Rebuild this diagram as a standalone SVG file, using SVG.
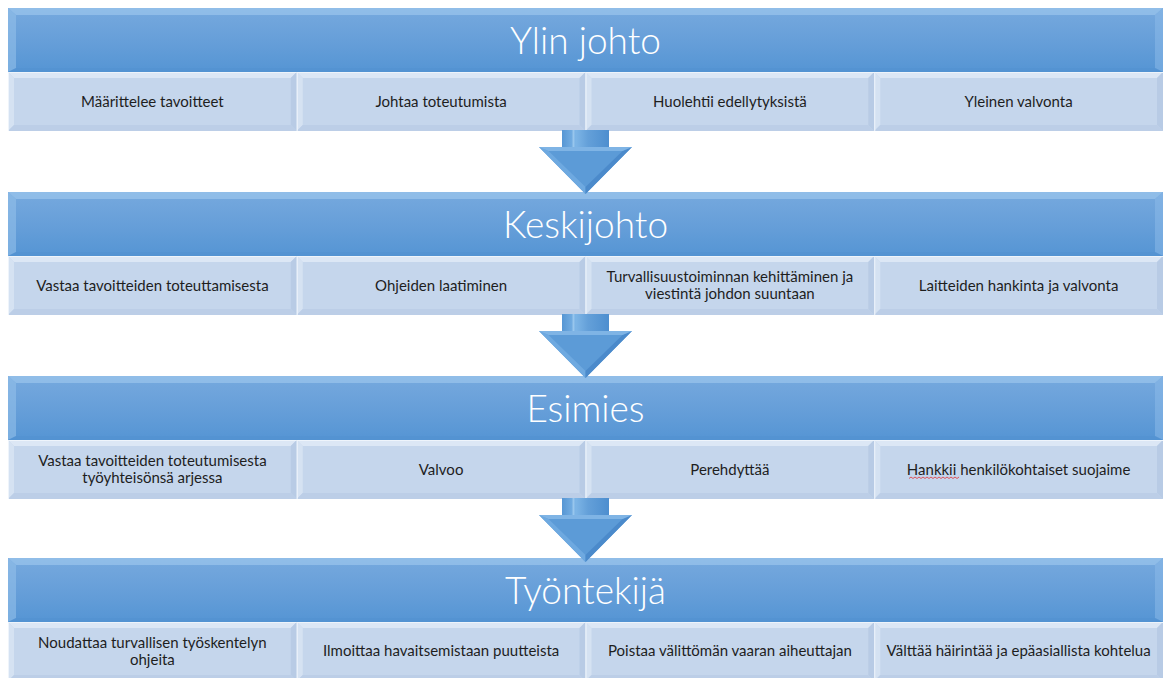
<svg xmlns="http://www.w3.org/2000/svg" xmlns:xlink="http://www.w3.org/1999/xlink" width="1166" height="678" viewBox="0 0 1166 678">
<defs>
<style>
.title{font-family:Lato,"Liberation Sans",sans-serif;font-weight:300;font-size:37px;fill:#ffffff;text-anchor:middle}
.ct{font-family:Lato,"Liberation Sans",sans-serif;font-size:15px;fill:#1e1e1e;text-anchor:middle}
</style>
<linearGradient id="hg" x1="0" y1="0" x2="0" y2="1">
<stop offset="0" stop-color="#76a9de"/>
<stop offset="0.5" stop-color="#679fd9"/>
<stop offset="1" stop-color="#5595d4"/>
</linearGradient>
<linearGradient id="sg" x1="0" y1="0" x2="1" y2="0">
<stop offset="0" stop-color="#5696d4"/>
<stop offset="0.3" stop-color="#7db5e6"/>
<stop offset="0.55" stop-color="#64a0d9"/>
<stop offset="1" stop-color="#4d8ecf"/>
</linearGradient>
<g id="hdr">
<rect x="0" y="0" width="1155" height="64" fill="url(#hg)"/>
<polygon points="0,0 1155,0 1147,7 8,7" fill="#a6cdf0" opacity="0.55"/>
<polygon points="0,0 8,7 8,60 0,64" fill="#93c0ea" opacity="0.6"/>
<polygon points="1155,0 1155,64 1147,60 1147,7" fill="#8dbbe9" opacity="0.5"/>
<polygon points="0,64 8,60 1147,60 1155,64" fill="#4f8ecf" opacity="0.35"/>
</g>
<g id="cell">
<rect x="0" y="0" width="288.75" height="59" fill="#c5d6ec"/>
<polygon points="0,0 288.75,0 282.75,6 6,6" fill="#dce7f5"/>
<polygon points="0,0 6,6 6,53 0,59" fill="#d5e2f2"/>
<polygon points="288.75,0 288.75,59 282.75,53 282.75,6" fill="#b8cbe5"/>
<polygon points="0,59 6,53 282.75,53 288.75,59" fill="#bccee7"/>
<line x1="0.5" y1="0" x2="0.5" y2="59" stroke="#eef4fb" stroke-width="1"/>
<line x1="0" y1="0.5" x2="288.75" y2="0.5" stroke="#eef4fb" stroke-width="1"/>
</g>
<g id="arr">
<rect x="-23.5" y="-1" width="47" height="19" fill="url(#sg)"/>
<rect x="-13" y="-1" width="2" height="19" fill="#b9def8" opacity="0.5"/>
<polygon points="-46.5,16 46.5,16 0,63" fill="#5c9bd7"/>
<polygon points="-46.5,16 -37,20 0,56 0,63" fill="#6ea9e0"/>
<polygon points="46.5,16 37,20 0,56 0,63" fill="#4b8acb"/>
<polygon points="-46.5,16 46.5,16 37,20 -37,20" fill="#7fb4e5"/>
</g>
</defs>
<rect width="1166" height="678" fill="#ffffff"/>

<g id="band1-header"><use xlink:href="#hdr" x="8" y="8"/><text class="title" x="585.5" y="53.5">Ylin johto</text></g>
<g id="b1c1"><use xlink:href="#cell" x="8" y="72"/><text class="ct" x="152.4" y="107">Määrittelee tavoitteet</text></g>
<g id="b1c2"><use xlink:href="#cell" x="296.75" y="72"/><text class="ct" x="441.1" y="107">Johtaa toteutumista</text></g>
<g id="b1c3"><use xlink:href="#cell" x="585.5" y="72"/><text class="ct" x="729.9" y="107">Huolehtii edellytyksistä</text></g>
<g id="b1c4"><use xlink:href="#cell" x="874.25" y="72"/><text class="ct" x="1018.6" y="107">Yleinen valvonta</text></g>

<g id="band2-header"><use xlink:href="#hdr" x="8" y="192"/><text class="title" x="585.5" y="237.5">Keskijohto</text></g>
<g id="b2c1"><use xlink:href="#cell" x="8" y="256"/><text class="ct" x="152.4" y="291">Vastaa tavoitteiden toteuttamisesta</text></g>
<g id="b2c2"><use xlink:href="#cell" x="296.75" y="256"/><text class="ct" x="441.1" y="291">Ohjeiden laatiminen</text></g>
<g id="b2c3"><use xlink:href="#cell" x="585.5" y="256"/><text class="ct" x="729.9" y="282">Turvallisuustoiminnan kehittäminen ja</text><text class="ct" x="729.9" y="299">viestintä johdon suuntaan</text></g>
<g id="b2c4"><use xlink:href="#cell" x="874.25" y="256"/><text class="ct" x="1018.6" y="291">Laitteiden hankinta ja valvonta</text></g>

<g id="band3-header"><use xlink:href="#hdr" x="8" y="376"/><text class="title" x="585.5" y="421.5">Esimies</text></g>
<g id="b3c1"><use xlink:href="#cell" x="8" y="440"/><text class="ct" x="152.4" y="466">Vastaa tavoitteiden toteutumisesta</text><text class="ct" x="152.4" y="483">työyhteisönsä arjessa</text></g>
<g id="b3c2"><use xlink:href="#cell" x="296.75" y="440"/><text class="ct" x="441.1" y="475">Valvoo</text></g>
<g id="b3c3"><use xlink:href="#cell" x="585.5" y="440"/><text class="ct" x="729.9" y="475">Perehdyttää</text></g>
<g id="b3c4"><use xlink:href="#cell" x="874.25" y="440"/><text class="ct" x="1018.6" y="475">Hankkii henkilökohtaiset suojaime</text>
<path d="M909,478.5 l2,-1.5 l2,1.5 l2,-1.5 l2,1.5 l2,-1.5 l2,1.5 l2,-1.5 l2,1.5 l2,-1.5 l2,1.5 l2,-1.5 l2,1.5 l2,-1.5 l2,1.5 l2,-1.5 l2,1.5 l2,-1.5 l2,1.5 l2,-1.5 l2,1.5 l2,-1.5 l2,1.5 l2,-1.5 l2,1.5 l2,-1.5" fill="none" stroke="#e0454a" stroke-width="0.9"/></g>

<g id="band4-header"><use xlink:href="#hdr" x="8" y="558"/><text class="title" x="585.5" y="603.5">Työntekijä</text></g>
<g id="b4c1"><use xlink:href="#cell" x="8" y="622"/><text class="ct" x="152.4" y="648">Noudattaa turvallisen työskentelyn</text><text class="ct" x="152.4" y="665">ohjeita</text></g>
<g id="b4c2"><use xlink:href="#cell" x="296.75" y="622"/><text class="ct" x="441.1" y="656">Ilmoittaa havaitsemistaan puutteista</text></g>
<g id="b4c3"><use xlink:href="#cell" x="585.5" y="622"/><text class="ct" x="729.9" y="656">Poistaa välittömän vaaran aiheuttajan</text></g>
<g id="b4c4"><use xlink:href="#cell" x="874.25" y="622"/><text class="ct" x="1018.6" y="656">Välttää häirintää ja epäasiallista kohtelua</text></g>

<g id="connectors">
<use xlink:href="#arr" x="585.5" y="131"/>
<use xlink:href="#arr" x="585.5" y="315"/>
<use xlink:href="#arr" x="585.5" y="499"/>
</g>
</svg>
